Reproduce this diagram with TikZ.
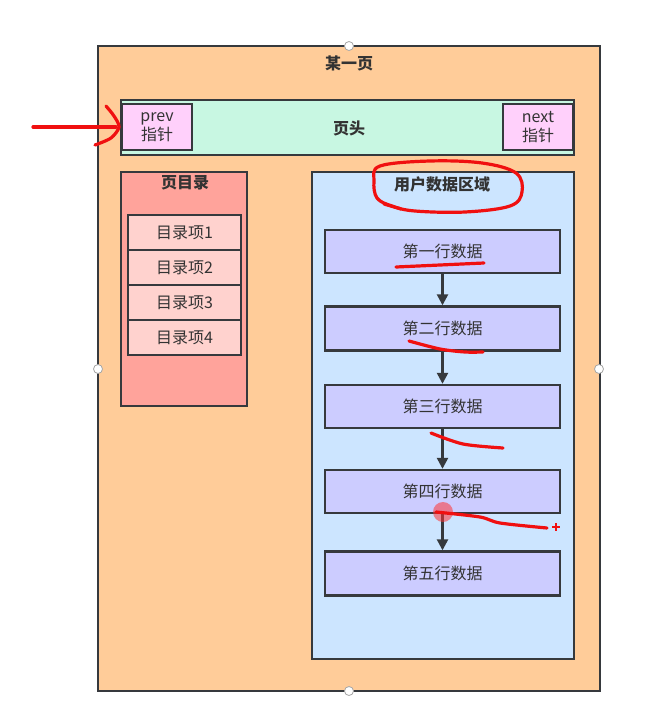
\documentclass[tikz,border=0pt]{standalone}
\usepackage{fontspec}
\setmainfont{Noto Sans CJK SC}
\usetikzlibrary{arrows.meta}
\definecolor{edge}{HTML}{36393D}
\definecolor{txt}{HTML}{333333}
\definecolor{pagefill}{HTML}{FFCC99}
\definecolor{headfill}{HTML}{C8F7E2}
\definecolor{ptrfill}{HTML}{FFD0FB}
\definecolor{dirfill}{HTML}{FFA39B}
\definecolor{itemfill}{HTML}{FFD2CE}
\definecolor{datafill}{HTML}{CCE5FF}
\definecolor{rowfill}{HTML}{CCCCFF}
\definecolor{annored}{HTML}{F01010}
\tikzset{
  box/.style={draw=edge, line width=2.4pt, rectangle, inner sep=0pt, text=txt, font=\fontsize{16}{19}\selectfont},
  ttl/.style={text=txt, font=\fontsize{16}{19}\selectfont\bfseries, inner sep=0pt},
  flow/.style={draw=edge, line width=2.4pt, -{Triangle[length=11pt,width=11pt]}},
  anno/.style={draw=annored, line width=3.2pt, line cap=round, line join=round},
  handle/.style={circle, draw=gray!70, fill=white, line width=0.8pt, minimum size=9pt, inner sep=0pt}
}
\begin{document}
\begin{tikzpicture}[x=1pt,y=-1pt]
\useasboundingbox[fill=white] (0,0) rectangle (656,710);
% page
\node[box, fill=pagefill, minimum width=502, minimum height=645] (page) at (349,368.5) {};
\node[ttl] (pagetitle) at (349,63) {某一页};
% header
\node[box, fill=headfill, minimum width=453, minimum height=55] (head) at (347.5,127.5) {};
\node[ttl] (headtitle) at (349,128) {页头};
\node[box, fill=ptrfill, minimum width=70, minimum height=46, align=center, font=\fontsize{16}{19}\selectfont] (prev) at (157,127) {prev\\指针};
\node[box, fill=ptrfill, minimum width=70, minimum height=46, align=center, font=\fontsize{16}{19}\selectfont] (next) at (538,127) {next\\指针};
% directory
\node[box, fill=dirfill, minimum width=126, minimum height=234] (dir) at (184,289) {};
\node[ttl] (dirtitle) at (185,183) {页目录};
\node[box, fill=itemfill, minimum width=113, minimum height=35] (i1) at (184.5,232.5) {目录项1};
\node[box, fill=itemfill, minimum width=113, minimum height=35] (i2) at (184.5,267.5) {目录项2};
\node[box, fill=itemfill, minimum width=113, minimum height=35] (i3) at (184.5,302.5) {目录项3};
\node[box, fill=itemfill, minimum width=113, minimum height=35] (i4) at (184.5,337.5) {目录项4};
% user data
\node[box, fill=datafill, minimum width=262, minimum height=487] (data) at (443,415.5) {};
\node[ttl] (datatitle) at (442,184) {用户数据区域};
\node[box, fill=rowfill, minimum width=235, minimum height=43] (r1) at (442.5,251.5) {第一行数据};
\node[box, fill=rowfill, minimum width=235, minimum height=44] (r2) at (442.5,328.5) {第二行数据};
\node[box, fill=rowfill, minimum width=235, minimum height=43] (r3) at (442.5,406.5) {第三行数据};
\node[box, fill=rowfill, minimum width=235, minimum height=43] (r4) at (442.5,491.5) {第四行数据};
\node[box, fill=rowfill, minimum width=235, minimum height=44] (r5) at (442.5,573.5) {第五行数据};
\draw[flow] (r1) -- (r2);
\draw[flow] (r2) -- (r3);
\draw[flow] (r3) -- (r4);
\draw[flow] (r4) -- (r5);
% selection handles
\node[handle] (h1) at (349,46) {};
\node[handle] (h2) at (98,369) {};
\node[handle] (h3) at (599,369) {};
\node[handle] (h4) at (349,691) {};
% red annotations
\draw[anno] (33,127) -- (116,127);
\draw[anno] plot[smooth] coordinates {(106,106) (114,116) (119,127) (111,138) (95,145)};
\draw[anno] plot[smooth cycle, tension=0.6] coordinates {(380,166) (430,161) (482,163) (516,173) (522,192) (510,206) (465,212) (415,211) (392,206) (377,198) (374,181)};
\draw[anno] (384,204) -- (401,209);
\draw[anno] plot[smooth] coordinates {(396,267) (440,265) (484,263)};
\draw[anno] plot[smooth] coordinates {(409,341) (440,349) (465,352) (483,352)};
\draw[anno] plot[smooth] coordinates {(431,433) (463,444) (503,448)};
\fill[red!80!white, opacity=0.55] (443,512) circle (10);
\draw[anno] plot[smooth] coordinates {(436,512) (480,517) (500,523) (547,528)};
\draw[annored, line width=1.5pt] (552,527) -- (560,527) (556,523) -- (556,531);
\end{tikzpicture}
\end{document}
